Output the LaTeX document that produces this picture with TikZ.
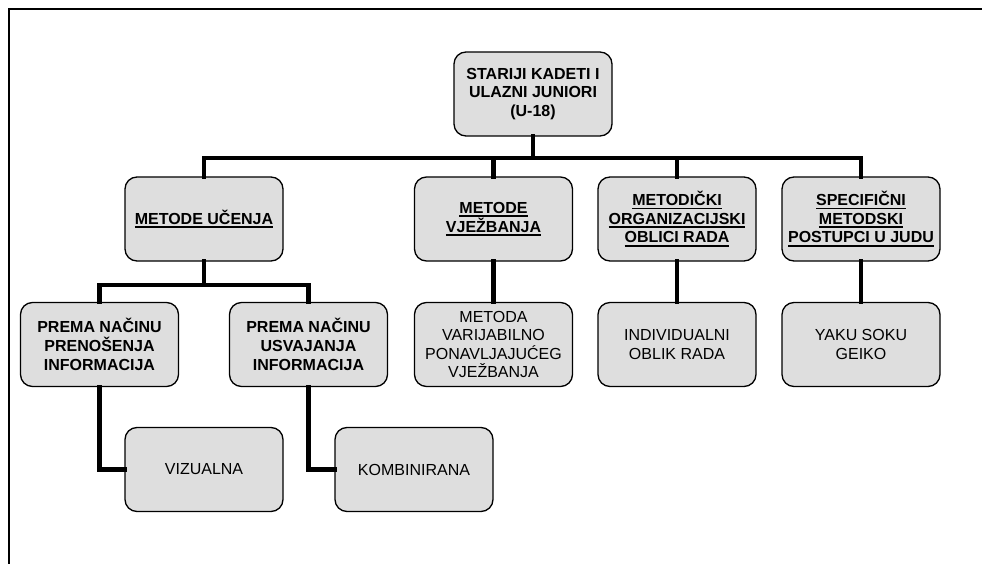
\documentclass[tikz,border=0pt]{standalone}
\usepackage{fontspec}
\setmainfont{Liberation Sans}
\newcommand\ulx[1]{\setbox0\hbox{#1}\rlap{\rule[-3.6pt]{\wd0}{1.8pt}}\box0}
\tikzset{
  box/.style={draw=black, line width=1.3pt, fill=boxgray, rounded corners=12pt,
    minimum width=158pt, minimum height=84pt, inner sep=0pt, align=center,
    font=\fontsize{16}{18.6}\selectfont},
  hbox/.style={box, font=\fontsize{16}{18.6}\selectfont\bfseries},
  conn/.style={line width=4.5pt, line join=miter, line cap=rect},
  frame/.style={line width=2pt}
}
\definecolor{boxgray}{HTML}{DEDEDE}
\begin{document}
\begin{tikzpicture}[x=1pt,y=-1pt]
\useasboundingbox (0,0) rectangle (982,564);
\draw[frame] (9,564) -- (9,9) -- (982,9);
% nodes
\node[hbox] (root) at (533,94) {STARIJI KADETI I\\ULAZNI JUNIORI\\(U-18)};
\node[hbox] (mu) at (204,219) {\ulx{METODE UČENJA}};
\node[hbox] (mv) at (493.5,219) {\ulx{METODE}\\\ulx{VJEŽBANJA}};
\node[hbox] (mo) at (677,219) {\ulx{METODIČKI}\\\ulx{ORGANIZACIJSKI}\\\ulx{OBLICI RADA}};
\node[hbox] (sp) at (861,219) {\ulx{SPECIFIČNI}\\\ulx{METODSKI}\\\ulx{POSTUPCI U JUDU}};
\node[hbox] (pnp) at (99.5,344.5) {PREMA NAČINU\\PRENOŠENJA\\INFORMACIJA};
\node[hbox] (pnu) at (308.5,344.5) {PREMA NAČINU\\USVAJANJA\\INFORMACIJA};
\node[box] (mvp) at (493.5,344.5) {METODA\\VARIJABILNO\\PONAVLJAJUĆEG\\VJEŽBANJA};
\node[box] (ind) at (677,344.5) {INDIVIDUALNI\\OBLIK RADA};
\node[box] (yaku) at (861,344.5) {YAKU SOKU\\GEIKO};
\node[box] (viz) at (204,469.5) {VIZUALNA};
\node[box] (komb) at (414,469.5) {KOMBINIRANA};
% bus coordinates
\coordinate (bus) at (533,158);
\coordinate (bus2) at (205,285);
% connectors
\draw[conn] (mu.north) -- (mu.north |- bus) -- (sp.north |- bus) -- (sp.north);
\draw[conn] (root.south) -- (root.south |- bus);
\draw[conn] (mv.north) -- (mv.north |- bus);
\draw[conn] (mo.north) -- (mo.north |- bus);
\draw[conn] (pnp.north) -- (pnp.north |- bus2) -- (pnu.north |- bus2) -- (pnu.north);
\draw[conn] (mu.south) -- (mu.south |- bus2);
\draw[conn] (mv.south) -- (mvp.north);
\draw[conn] (mo.south) -- (ind.north);
\draw[conn] (sp.south) -- (yaku.north);
\draw[conn] (pnp.south) |- (viz.west);
\draw[conn] (pnu.south) |- (komb.west);
\end{tikzpicture}
\end{document}
